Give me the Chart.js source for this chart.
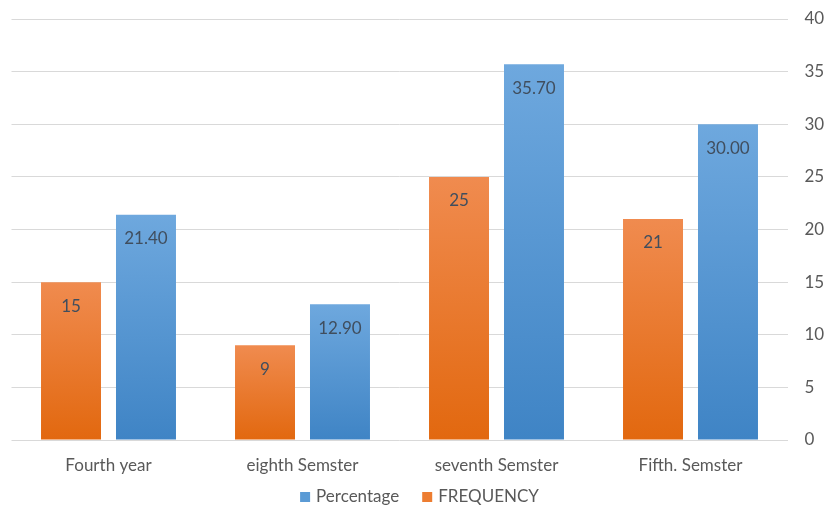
<!DOCTYPE html>
<html>
<head>
<meta charset="utf-8">
<script src="https://cdn.jsdelivr.net/npm/chart.js@4"></script>
<style>
  html, body { margin: 0; padding: 0; background: #fff; }
  #wrap { width: 826px; height: 507px; }
</style>
</head>
<body>
<div id="wrap"><canvas id="c" width="826" height="507"></canvas></div>
<script>
const categories = ['Fourth year', 'eighth Semster', 'seventh Semster', 'Fifth. Semster'];
const frequency = [15, 9, 25, 21];
const percentage = [21.40, 12.90, 35.70, 30.00];
const yTicks = [0, 5, 10, 15, 20, 25, 30, 35, 40];

const FONT = 'Lato, "Open Sans", sans-serif';
const TEXT = '#595959';

// vertical gradient running down each individual bar
function barGradient(top, bottom) {
  return (ctx) => {
    const chart = ctx.chart;
    const y = chart.scales.y;
    if (!chart.chartArea || !y || ctx.raw == null) return bottom;
    const y0 = y.getPixelForValue(ctx.raw);
    const y1 = y.getPixelForValue(0);
    const g = chart.ctx.createLinearGradient(0, y0, 0, y1);
    g.addColorStop(0, top);
    g.addColorStop(1, bottom);
    return g;
  };
}

// value labels drawn just inside the top of each bar
const valueLabels = {
  id: 'valueLabels',
  afterDatasetsDraw(chart) {
    const ctx = chart.ctx;
    ctx.save();
    ctx.font = '17px ' + FONT;
    ctx.fillStyle = '#404e5e';
    ctx.textAlign = 'center';
    ctx.textBaseline = 'middle';
    chart.data.datasets.forEach((ds, i) => {
      const meta = chart.getDatasetMeta(i);
      meta.data.forEach((bar, j) => {
        ctx.fillText(ds.labelText(ds.data[j]), bar.x, bar.y + 24);
      });
    });
    ctx.restore();
  }
};

// legend row under the category labels, Percentage listed first
const bottomLegend = {
  id: 'bottomLegend',
  afterDraw(chart) {
    const ctx = chart.ctx;
    const items = chart.data.datasets.slice().reverse();
    const box = 10, gapText = 6, gapItem = 23, cy = 497;
    ctx.save();
    ctx.font = '17px ' + FONT;
    ctx.textBaseline = 'middle';
    ctx.textAlign = 'left';
    const widths = items.map(ds => box + gapText + ctx.measureText(ds.label).width);
    const total = widths.reduce((a, b) => a + b, 0) + gapItem * (items.length - 1);
    let x = (chart.chartArea.left + chart.chartArea.right) / 2 - total / 2 + 20;
    items.forEach((ds, i) => {
      ctx.fillStyle = ds.legendColor;
      ctx.fillRect(x, cy - box / 2, box, box);
      ctx.fillStyle = TEXT;
      ctx.fillText(ds.label, x + box + gapText, cy);
      x += widths[i] + gapItem;
    });
    ctx.restore();
  }
};

new Chart(document.getElementById('c'), {
  type: 'bar',
  data: {
    labels: categories,
    datasets: [
      {
        label: 'FREQUENCY',
        data: frequency,
        labelText: v => String(v),
        backgroundColor: barGradient('#f08b4f', '#e2680f'),
        legendColor: '#ed7d31',
        barPercentage: 0.8,
        categoryPercentage: 0.773
      },
      {
        label: 'Percentage',
        data: percentage,
        labelText: v => v.toFixed(2),
        backgroundColor: barGradient('#6ea8de', '#3f84c5'),
        legendColor: '#5b9bd5',
        barPercentage: 0.8,
        categoryPercentage: 0.773
      }
    ]
  },
  options: {
    responsive: false,
    animation: false,
    layout: { padding: { left: 11.5, top: 19, right: 0, bottom: 25 } },
    plugins: {
      tooltip: { enabled: false },
      legend: { display: false }
    },
    scales: {
      x: {
        grid: { display: false },
        border: { display: false },
        ticks: { font: { family: FONT, size: 17 }, color: TEXT, padding: 7 },
        afterFit(s) { s.height = 42; }
      },
      y: {
        position: 'right',
        min: 0,
        max: 40,
        afterBuildTicks(s) { s.ticks = yTicks.map(v => ({ value: v })); },
        grid: { color: '#d9d9d9', drawTicks: false },
        border: { display: false },
        ticks: {
          font: { family: FONT, size: 17 },
          color: TEXT,
          padding: 17,
          crossAlign: 'near'
        },
        afterFit(s) {
          s.width = 38.5;
          s.paddingTop = 0;
          s.paddingBottom = 0;
        }
      }
    }
  },
  plugins: [valueLabels, bottomLegend]
});
</script>
</body>
</html>
